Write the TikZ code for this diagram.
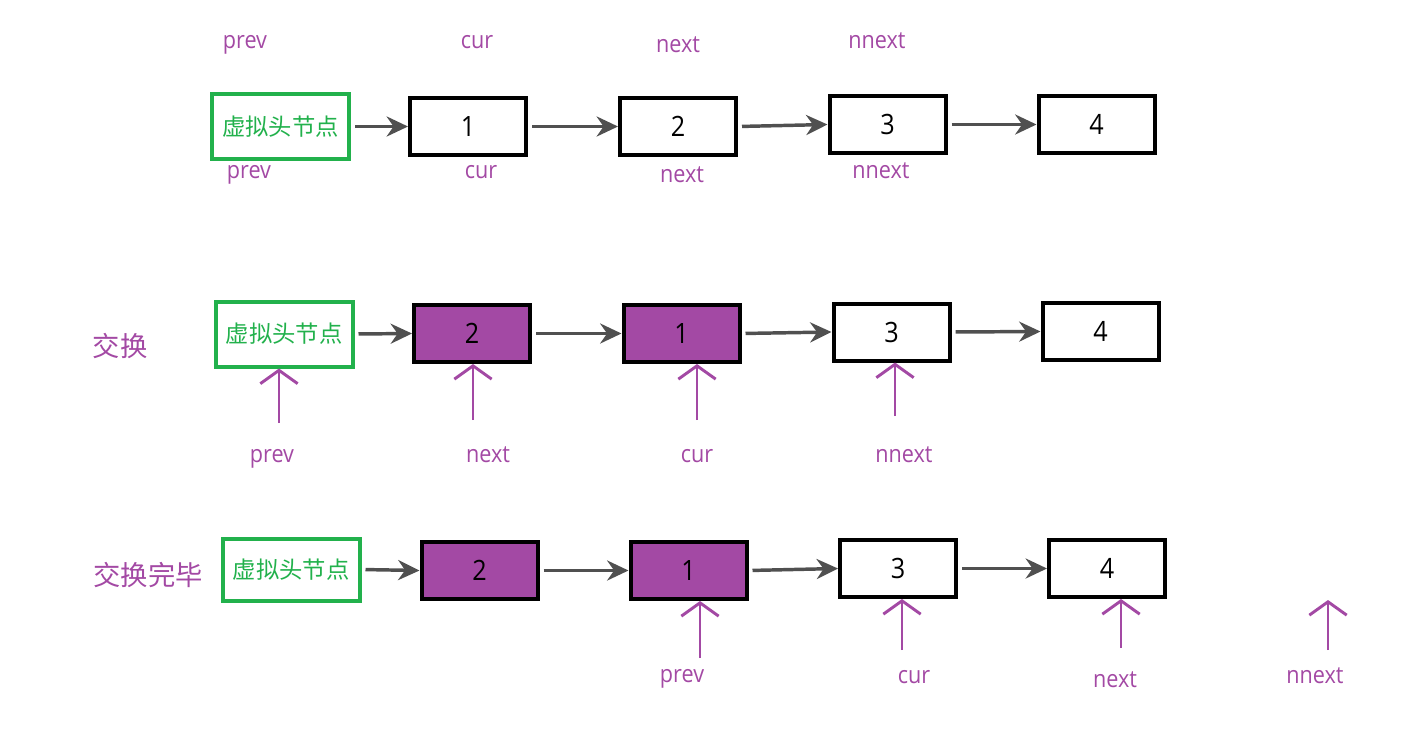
\documentclass[tikz,border=0pt]{standalone}
\usepackage{fontspec}
\setmainfont{Open Sans}
\newfontfamily\lblfont[FakeStretch=0.9]{Open Sans}
\newfontfamily\cjk{Noto Sans CJK SC}
\usetikzlibrary{arrows.meta}
\definecolor{pur}{RGB}{163,73,164}
\definecolor{grn}{RGB}{34,177,76}
\definecolor{arr}{RGB}{80,80,80}
\begin{document}
\begin{tikzpicture}[x=0.75pt,y=-0.75pt,
  box/.style={draw=black,line width=3pt,minimum width=87pt,minimum height=42.75pt,inner sep=0pt,font=\lblfont\fontsize{21}{24}\selectfont},
  pbox/.style={box,fill=pur},
  headbox/.style={draw=grn,line width=3pt,minimum width=102.75pt,minimum height=48.75pt,inner sep=0pt,text=grn,font=\cjk\fontsize{17.5}{20}\selectfont},
  lbl/.style={text=pur,font=\lblfont\fontsize{18}{20}\selectfont,inner sep=0pt,anchor=base},
  cjklbl/.style={text=pur,font=\cjk\fontsize{20.5}{24}\selectfont,inner sep=0pt},
  link/.style={draw=arr,line width=2.6pt,-{Stealth[length=16pt,width=15pt]},shorten <=3pt},
  up/.style={draw=pur,line width=2.2pt,-{Straight Barb[length=10pt,width=28pt]}}
]
\useasboundingbox (0,0) rectangle (1419,739);

% Row 1
\node[headbox] (h1) at (280.5,126.5) {虚拟头节点};
\node[box] (a1) at (468,126.5) {1};
\node[box] (a2) at (678,126.5) {2};
\node[box] (a3) at (887.5,124.5) {3};
\node[box] (a4) at (1096.5,124.5) {4};
\draw[link] (h1.east) -- (a1.west);
\draw[link] (a1.east) -- (a2.west);
\draw[link] (a2.east) -- (a3.west);
\draw[link] (a3.east) -- (a4.west);
\node[lbl] (t1) at (245,48) {prev};
\node[lbl] (t2) at (477,48) {cur};
\node[lbl] (t3) at (678,52) {next};
\node[lbl] (t4) at (877,48) {nnext};
\node[lbl] (b1) at (249,178) {prev};
\node[lbl] (b2) at (481,178) {cur};
\node[lbl] (b3) at (682,182) {next};
\node[lbl] (b4) at (881,178) {nnext};

% Row 2
\node[cjklbl] (r2) at (120,346) {交换};
\node[headbox] (h2) at (284,334) {虚拟头节点};
\node[pbox] (c2) at (472,333.5) {2};
\node[pbox] (c1) at (681.5,333.5) {1};
\node[box] (c3) at (891.5,332) {3};
\node[box] (c4) at (1100.5,331.5) {4};
\draw[link] (h2.east) -- (c2.west);
\draw[link] (c2.east) -- (c1.west);
\draw[link] (c1.east) -- (c3.west);
\draw[link] (c3.east) -- (c4.west);
\node[lbl] (l2a) at (272,462) {prev};
\node[lbl] (l2b) at (488,462) {next};
\node[lbl] (l2c) at (697,462) {cur};
\node[lbl] (l2d) at (904,462) {nnext};
\coordinate (s2a) at (279,423);
\coordinate (s2b) at (473,420);
\coordinate (s2c) at (697,420);
\coordinate (s2d) at (895,416);
\draw[up] (s2a) -- (h2.south -| s2a);
\draw[up] (s2b) -- (c2.south -| s2b);
\draw[up] (s2c) -- (c1.south -| s2c);
\draw[up] (s2d) -- (c3.south -| s2d);

% Row 3
\node[cjklbl] (r3) at (148,575) {交换完毕};
\node[headbox,minimum height=46.5pt] (h3) at (291,569.5) {虚拟头节点};
\node[pbox] (d2) at (479.5,570.5) {2};
\node[pbox] (d1) at (688.5,570.5) {1};
\node[box] (d3) at (898,568.5) {3};
\node[box] (d4) at (1107,568.5) {4};
\draw[link] (h3.east) -- (d2.west);
\draw[link] (d2.east) -- (d1.west);
\draw[link] (d1.east) -- (d3.west);
\draw[link] (d3.east) -- (d4.west);
\node[lbl] (l3a) at (682,682) {prev};
\node[lbl] (l3b) at (914,683) {cur};
\node[lbl] (l3c) at (1115,687) {next};
\node[lbl] (l3d) at (1315,683) {nnext};
\coordinate (s3a) at (700,658);
\coordinate (s3b) at (902,650);
\coordinate (s3c) at (1121,648);
\coordinate (s3d) at (1328,650);
\coordinate (e3d) at (1328,600);
\draw[up] (s3a) -- (d1.south -| s3a);
\draw[up] (s3b) -- (d3.south -| s3b);
\draw[up] (s3c) -- (d4.south -| s3c);
\draw[up] (s3d) -- (e3d);
\end{tikzpicture}
\end{document}
